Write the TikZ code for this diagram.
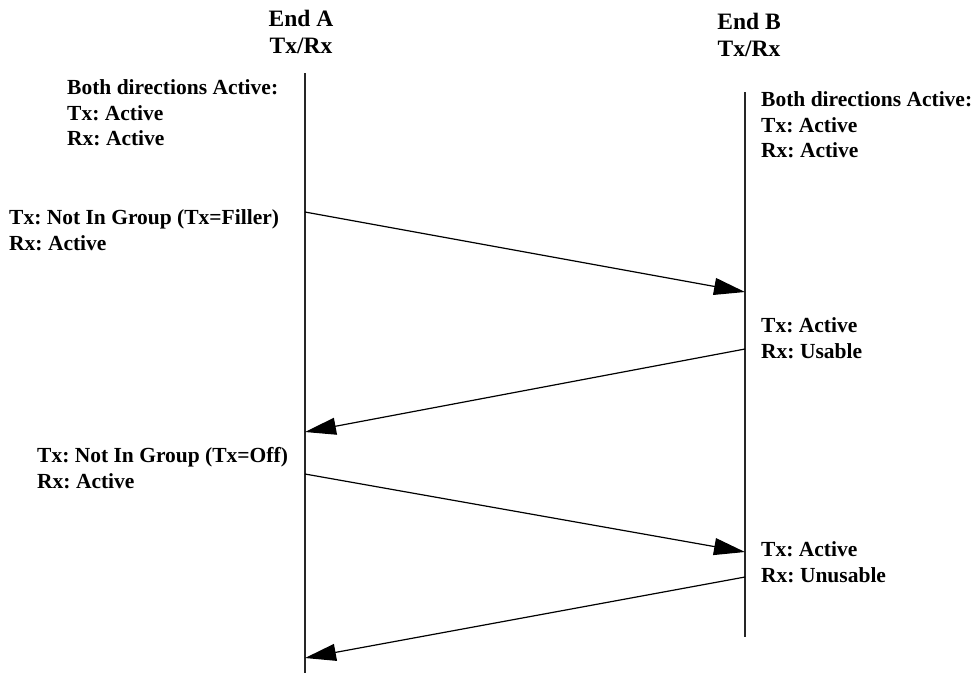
\documentclass[tikz,border=0pt]{standalone}
\usepackage{fontspec}
\setmainfont{Liberation Serif}
\frenchspacing
\usetikzlibrary{arrows.meta}
\begin{document}
\begin{tikzpicture}[x=1pt,y=-1pt,
  lbl/.style={anchor=west,inner sep=0pt,align=left,font=\fontsize{21.5}{25.5}\selectfont\bfseries},
  ttl/.style={inner sep=0pt,align=center,font=\fontsize{23.5}{27}\selectfont\bfseries},
  life/.style={line width=1.3pt,draw=black!85},
  msg/.style={line width=1.2pt,-{Triangle[length=31pt,width=17pt]}}]
\useasboundingbox (0,0) rectangle (974,673);
% titles
\node[ttl] (tA) at (301,32) {End A\\Tx/Rx};
\node[ttl] (tB) at (749,35) {End B\\Tx/Rx};
% lifelines
\coordinate (aTop) at (305,73);
\coordinate (aBot) at (305,673);
\coordinate (bTop) at (745,92);
\coordinate (bBot) at (745,637);
\draw[life] (aTop) -- (aBot);
\draw[life] (bTop) -- (bBot);
% state labels
\node[lbl] (sA0) at (67,113) {Both directions Active:\\Tx: Active\\Rx: Active};
\node[lbl] (sB0) at (761,125) {Both directions Active:\\Tx: Active\\Rx: Active};
\node[lbl] (sA1) at (9,230) {Tx: Not In Group (Tx=Filler)\\Rx: Active};
\node[lbl] (sB1) at (761,338) {Tx: Active\\Rx: Usable};
\node[lbl] (sA2) at (37,468) {Tx: Not In Group (Tx=Off)\\Rx: Active};
\node[lbl] (sB2) at (761,562) {Tx: Active\\Rx: Unusable};
% message end points
\coordinate (m1s) at (305,212);
\coordinate (m1e) at (745,292);
\coordinate (m2s) at (745,349);
\coordinate (m2e) at (305,432);
\coordinate (m3s) at (305,474);
\coordinate (m3e) at (745,552);
\coordinate (m4s) at (745,577);
\coordinate (m4e) at (305,658);
\draw[msg] (m1s) -- (m1e);
\draw[msg] (m2s) -- (m2e);
\draw[msg] (m3s) -- (m3e);
\draw[msg] (m4s) -- (m4e);
\end{tikzpicture}
\end{document}
